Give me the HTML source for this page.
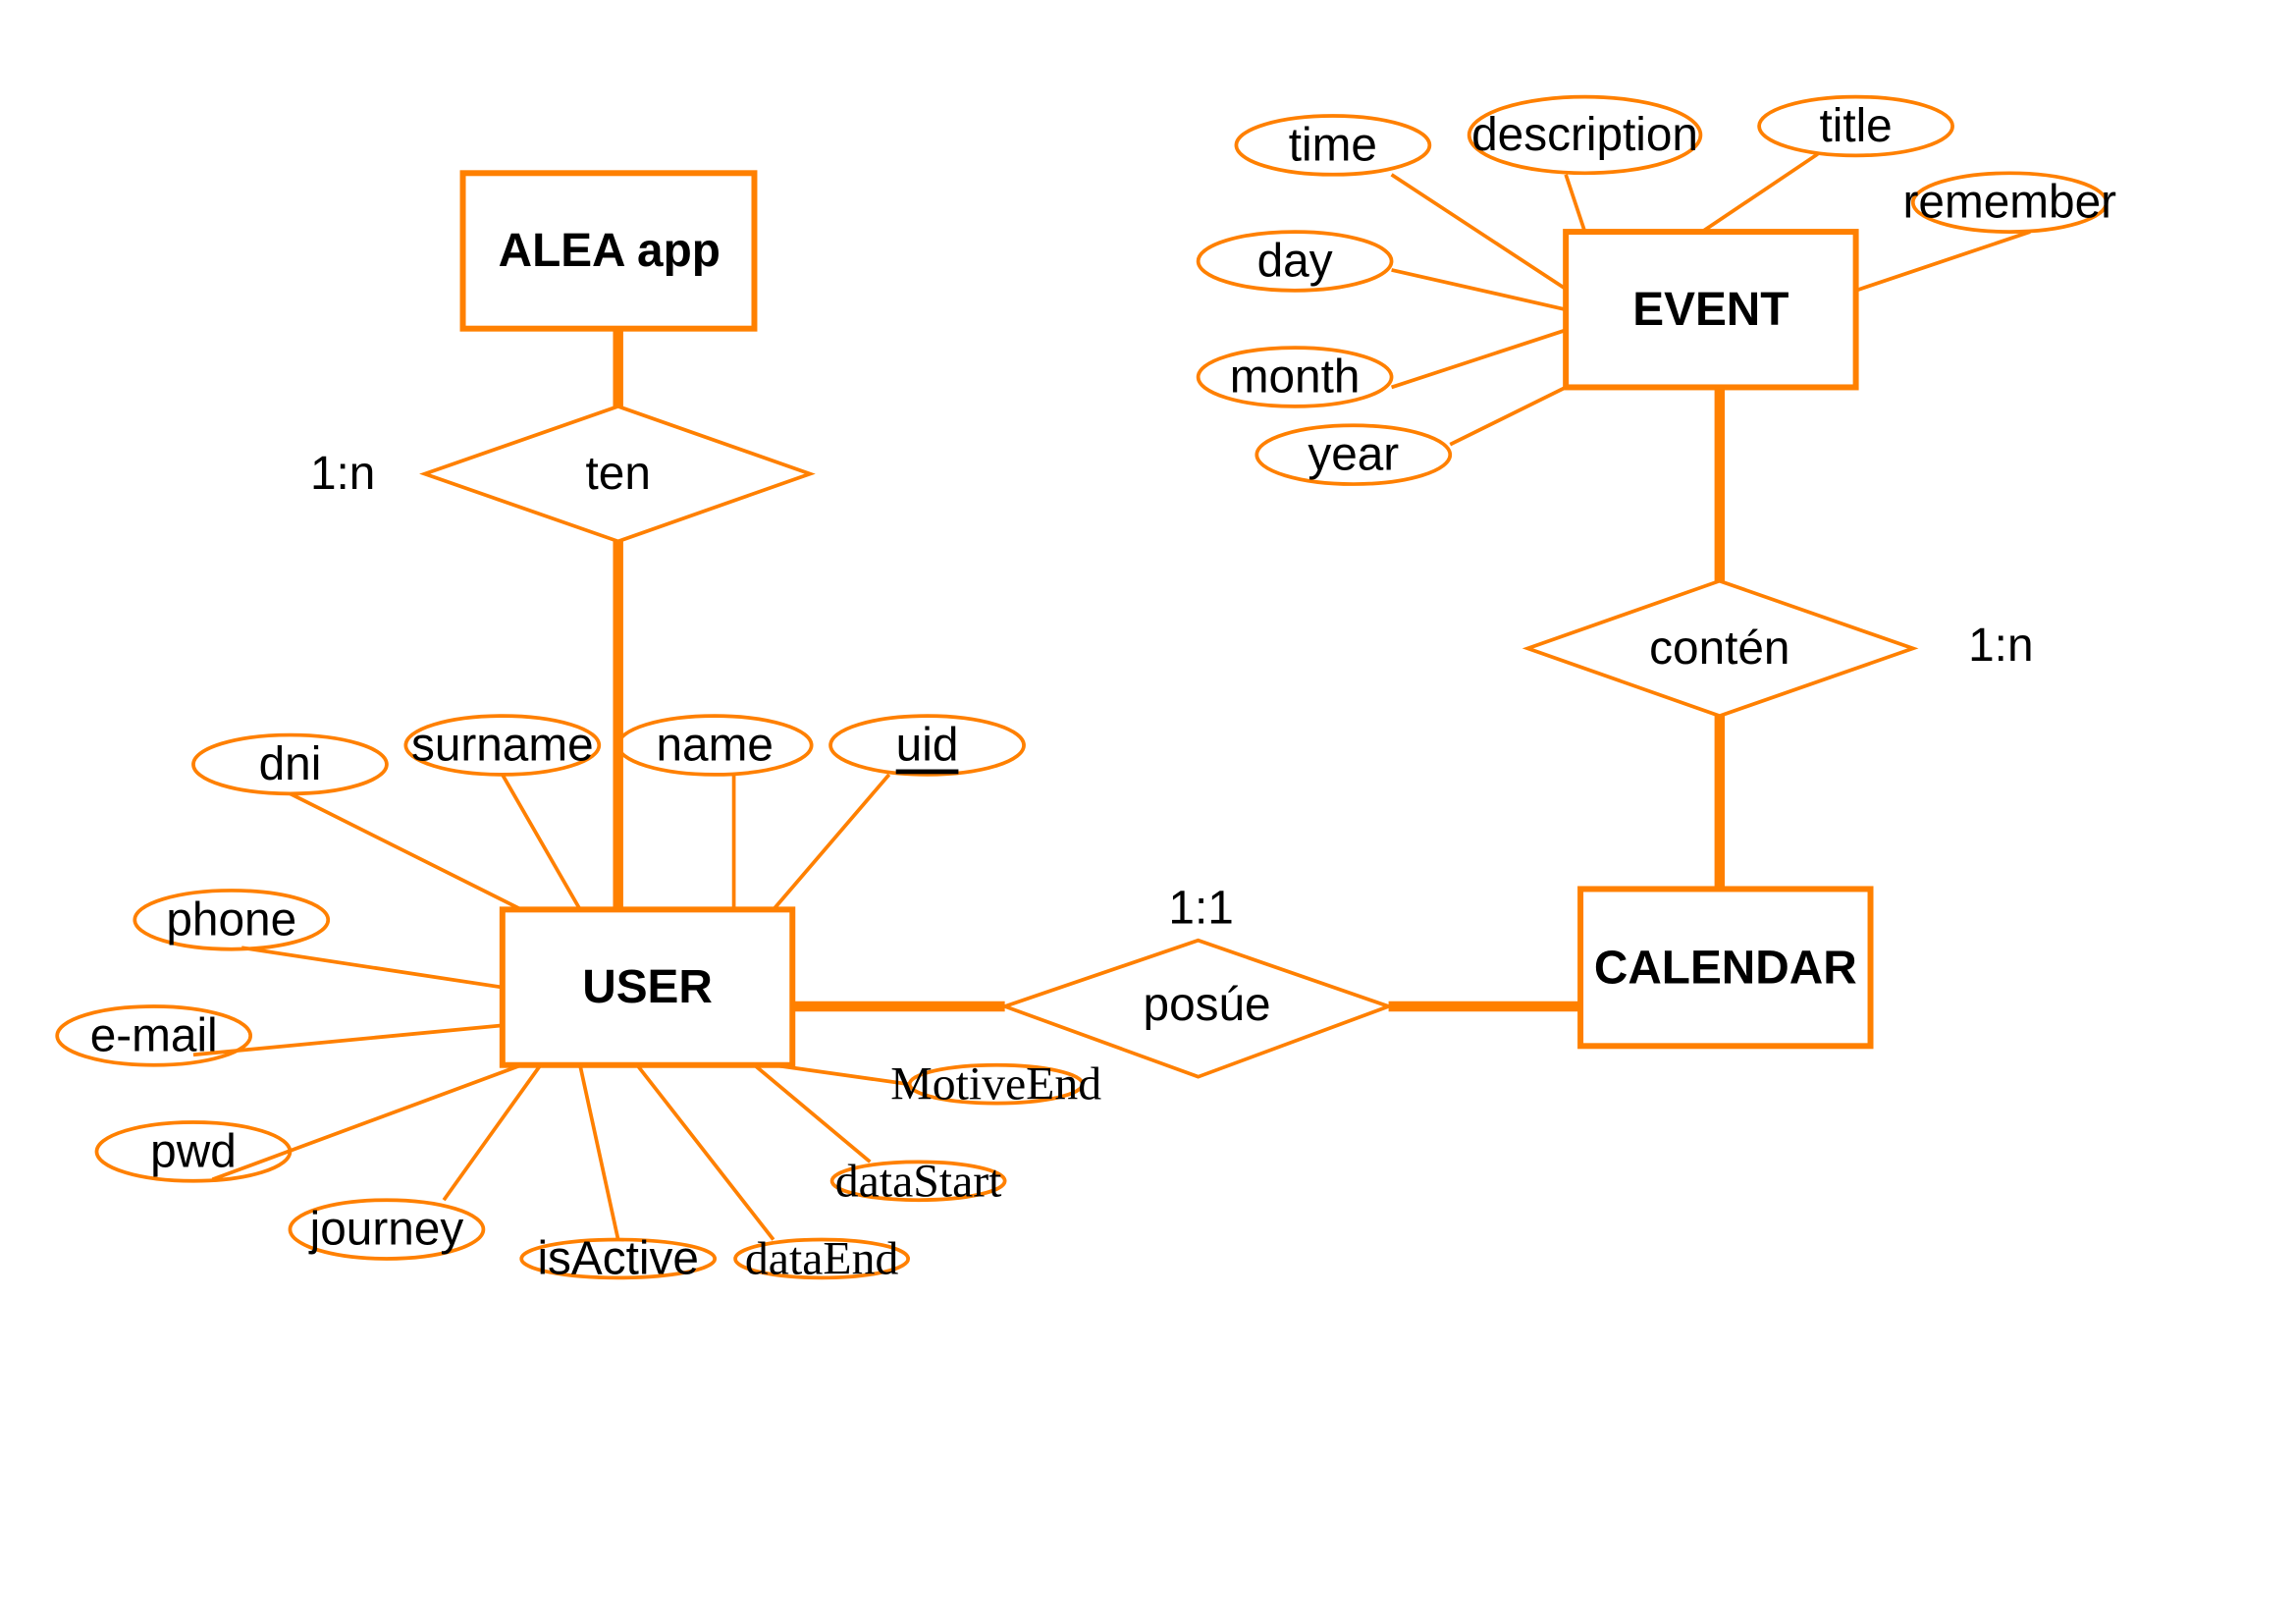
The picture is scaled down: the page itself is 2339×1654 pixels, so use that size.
<!DOCTYPE html>
<html><head><meta charset="utf-8"><style>html,body{margin:0;padding:0;background:#fff}svg{display:block}</style></head>
<body>
<svg width="2339" height="1654" viewBox="0 0 1567.5 1107" preserveAspectRatio="none" xmlns="http://www.w3.org/2000/svg">
<rect width="1567.5" height="1107" fill="#fff"/>
<g stroke="#ff8000" fill="none">
<g stroke-width="7">
<line x1="422" y1="224" x2="422" y2="278"/>
<line x1="422" y1="369" x2="422" y2="620"/>
<line x1="541" y1="686" x2="686" y2="686"/>
<line x1="948" y1="686" x2="1079" y2="686"/>
<line x1="1174" y1="264" x2="1174" y2="396"/>
<line x1="1174" y1="488" x2="1174" y2="606"/>
</g>
<g stroke-width="4">
<rect x="316" y="118" width="199" height="106"/>
<rect x="343" y="620" width="198" height="106"/>
<rect x="1079" y="606" width="198" height="107"/>
<rect x="1069" y="158" width="198" height="106"/>
</g>
<g stroke-width="2.5">
<polygon points="290,323 422,277 553,323 422,369"/>
<polygon points="686,686 818,641 948,686 818,734"/>
<polygon points="1043,442 1174,396 1306,442 1174,488"/>
<ellipse cx="910" cy="99" rx="66" ry="20"/>
<ellipse cx="1082" cy="92" rx="79" ry="26"/>
<ellipse cx="1267" cy="86" rx="66" ry="20"/>
<ellipse cx="1372" cy="138" rx="66" ry="20"/>
<ellipse cx="884" cy="178" rx="66" ry="20"/>
<ellipse cx="884" cy="257" rx="66" ry="20"/>
<ellipse cx="924" cy="310" rx="66" ry="20"/>
<ellipse cx="198" cy="521" rx="66" ry="20"/>
<ellipse cx="343" cy="508" rx="66" ry="20"/>
<ellipse cx="488" cy="508" rx="66" ry="20"/>
<ellipse cx="633" cy="508" rx="66" ry="20"/>
<ellipse cx="158" cy="627" rx="66" ry="20"/>
<ellipse cx="105" cy="706" rx="66" ry="20"/>
<ellipse cx="132" cy="785" rx="66" ry="20"/>
<ellipse cx="264" cy="838" rx="66" ry="20"/>
<ellipse cx="422" cy="858" rx="66" ry="13"/>
<ellipse cx="561" cy="858" rx="59" ry="13"/>
<ellipse cx="627" cy="805" rx="59" ry="13"/>
<ellipse cx="680" cy="739" rx="59" ry="13"/>
<line x1="950" y1="119" x2="1069" y2="197"/>
<line x1="1069" y1="119" x2="1082" y2="158"/>
<line x1="1241" y1="105" x2="1162" y2="158"/>
<line x1="1386" y1="158" x2="1267" y2="198"/>
<line x1="950" y1="184" x2="1069" y2="211"/>
<line x1="950" y1="264" x2="1069" y2="225"/>
<line x1="990" y1="303" x2="1069" y2="264"/>
<line x1="198" y1="541" x2="356" y2="620"/>
<line x1="343" y1="528" x2="396" y2="620"/>
<line x1="501" y1="528" x2="501" y2="620"/>
<line x1="607" y1="528" x2="528" y2="620"/>
<line x1="165" y1="646" x2="343" y2="673"/>
<line x1="132" y1="719" x2="343" y2="699"/>
<line x1="145" y1="804" x2="356" y2="726"/>
<line x1="303" y1="818" x2="369" y2="726"/>
<line x1="422" y1="845" x2="396" y2="726"/>
<line x1="528" y1="845" x2="435" y2="726"/>
<line x1="594" y1="792" x2="515" y2="726"/>
<line x1="620" y1="739" x2="528" y2="726"/>
</g>
</g>
<g font-family="Liberation Sans, sans-serif" font-size="32" fill="#000" text-anchor="middle" dominant-baseline="central">
<text x="416" y="171" font-weight="bold">ALEA app</text>
<text x="442" y="673" font-weight="bold">USER</text>
<text x="1178" y="660" font-weight="bold">CALENDAR</text>
<text x="1168" y="211" font-weight="bold">EVENT</text>
<text x="422" y="323">ten</text>
<text x="824" y="685">posúe</text>
<text x="1174" y="442">contén</text>
<text x="234" y="323">1:n</text>
<text x="820" y="619">1:1</text>
<text x="1366" y="440">1:n</text>
<text x="910" y="99">time</text>
<text x="1082" y="92">description</text>
<text x="1267" y="86">title</text>
<text x="1372" y="138">remember</text>
<text x="884" y="178">day</text>
<text x="884" y="257">month</text>
<text x="924" y="310">year</text>
<text x="198" y="521">dni</text>
<text x="343" y="508">surname</text>
<text x="488" y="508">name</text>
<text x="633" y="508" text-decoration="underline">uid</text>
<text x="158" y="627">phone</text>
<text x="105" y="706">e-mail</text>
<text x="132" y="785">pwd</text>
<text x="264" y="838">journey</text>
<text x="422" y="858">isActive</text>
</g>
<g font-family="Liberation Serif, serif" font-size="32" fill="#000" text-anchor="middle" dominant-baseline="central">
<text x="561" y="858">dataEnd</text>
<text x="627" y="805">dataStart</text>
<text x="680" y="739">MotiveEnd</text>
</g>
</svg>
</body></html>
